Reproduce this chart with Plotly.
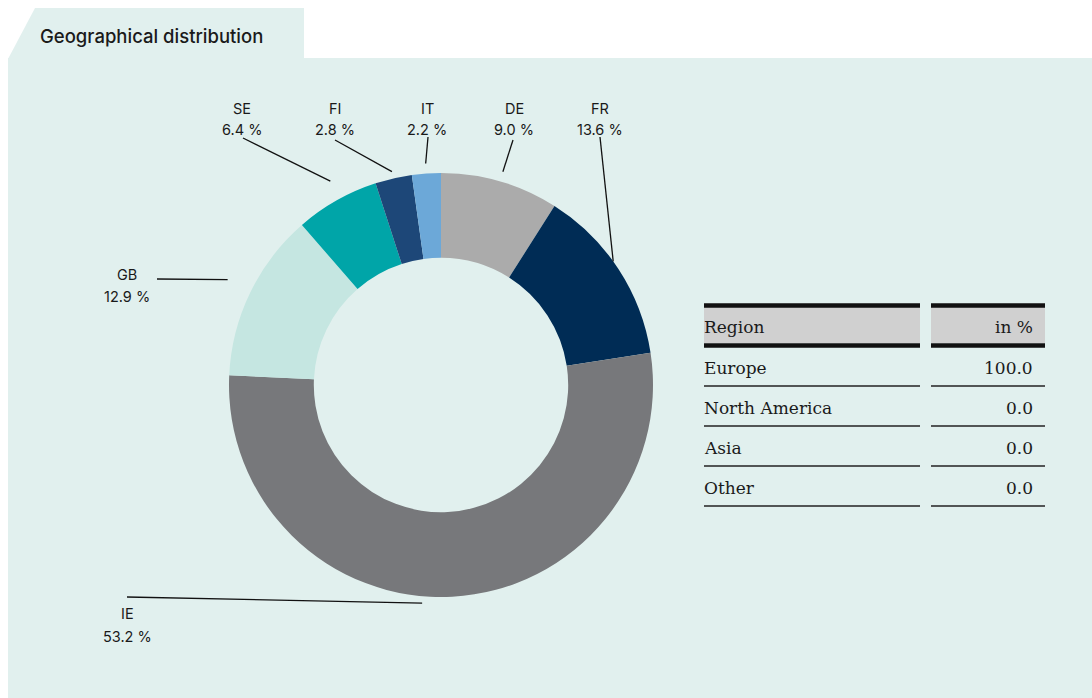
import math
import plotly.graph_objects as go

# ---------------- data ----------------
countries = ["DE", "FR", "IE", "GB", "SE", "FI", "IT"]
shares = [9.0, 13.6, 53.2, 12.9, 6.4, 2.8, 2.2]
slice_colors = ["#ababab", "#002c55", "#77787b", "#c5e6e1", "#00a5a8", "#1d4778", "#6ca8d8"]

regions = ["Europe", "North America", "Asia", "Other"]
region_values = [100.0, 0.0, 0.0, 0.0]
table_header = ["Region", "in %"]

title_text = "Geographical distribution"

# ---------------- layout constants ----------------
W, H = 1092, 698
BG = "#e1f0ee"
TXT = "#1a1a1a"
CX, CY, R = 441, 385, 212
HOLE = 0.6

# label layout: centre x, name y, value y, leader start, leader end radius, angle nudge (deg)
label_layout = {
    "SE": dict(x=242, ny=108, vy=130, sx=243, sy=138, r=232, nudge=1.0),
    "FI": dict(x=335, ny=108, vy=130, sx=335, sy=140, r=219, nudge=0),
    "IT": dict(x=427, ny=108, vy=130, sx=428, sy=137, r=222, nudge=0),
    "DE": dict(x=514, ny=108, vy=130, sx=513, sy=140, r=222, nudge=0),
    "FR": dict(x=600, ny=108, vy=130, sx=600, sy=137, r=212, nudge=-2.5),
    "GB": dict(x=127, ny=274, vy=297, sx=157, sy=279, r=238, nudge=0.5),
    "IE": dict(x=127, ny=613, vy=636, sx=127, sy=597, r=219, nudge=8),
}


def px(x):
    return x / W


def py(y):
    return 1 - y / H


fig = go.Figure()

fig.add_trace(go.Pie(
    labels=countries,
    values=shares,
    marker=dict(colors=slice_colors, line=dict(width=0)),
    hole=HOLE,
    sort=False,
    direction="clockwise",
    rotation=0,
    textinfo="none",
    hoverinfo="label+percent",
    showlegend=False,
    domain=dict(x=[px(CX - R), px(CX + R)], y=[py(CY + R), py(CY - R)]),
))

shapes = []
annotations = []

# background panel + tab
shapes.append(dict(type="rect", xref="paper", yref="paper",
                   x0=px(8), x1=px(W), y0=py(H), y1=py(58),
                   fillcolor=BG, line=dict(width=0), layer="below"))
shapes.append(dict(type="path", xref="paper", yref="paper",
                   path=f"M {px(35)},{py(8)} L {px(304)},{py(8)} L {px(304)},{py(59)} L {px(8)},{py(59)} Z",
                   fillcolor=BG, line=dict(width=0), layer="below"))

annotations.append(dict(text=title_text, x=px(38), y=py(36), xref="paper", yref="paper",
                        xanchor="left", yanchor="middle", showarrow=False,
                        font=dict(family="Inter", size=18.5, color=TXT, weight=500)))

LFONT = dict(family="Inter", size=14.5, color=TXT)

# leader lines and labels, anchored on slice mid-angles
total = sum(shares)
cum = 0.0
for name, val in zip(countries, shares):
    mid = (cum + val / 2) / total * 360.0
    cum += val
    L = label_layout[name]
    th = math.radians(mid + L["nudge"])
    ex = CX + L["r"] * math.sin(th)
    ey = CY - L["r"] * math.cos(th)
    shapes.append(dict(type="line", xref="paper", yref="paper",
                       x0=px(L["sx"]), y0=py(L["sy"]), x1=px(ex), y1=py(ey),
                       line=dict(color="#111111", width=1.3)))
    annotations.append(dict(text=name, x=px(L["x"]), y=py(L["ny"]), xref="paper", yref="paper",
                            xanchor="center", yanchor="middle", showarrow=False, font=LFONT))
    annotations.append(dict(text=f"{val:.1f} %", x=px(L["x"]), y=py(L["vy"]), xref="paper", yref="paper",
                            xanchor="center", yanchor="middle", showarrow=False, font=LFONT))

# ---------------- table ----------------
C1 = (704, 920)
C2 = (931, 1045)
VAL_RIGHT = 1035
TFONT = dict(family="DejaVu Serif", size=17, color=TXT)

for (a, b) in (C1, C2):
    shapes.append(dict(type="rect", xref="paper", yref="paper",
                       x0=px(a), x1=px(b), y0=py(343), y1=py(307),
                       fillcolor="#d0d0d0", line=dict(width=0)))
    for yy in (305.5, 345.5):
        shapes.append(dict(type="line", xref="paper", yref="paper",
                           x0=px(a), x1=px(b), y0=py(yy), y1=py(yy),
                           line=dict(color="#111111", width=4.5)))

annotations.append(dict(text=table_header[0], x=px(C1[0] - 2), y=py(327), xref="paper", yref="paper",
                        xanchor="left", yanchor="middle", showarrow=False, font=TFONT))
annotations.append(dict(text=table_header[1], x=px(VAL_RIGHT), y=py(327), xref="paper", yref="paper",
                        xanchor="right", yanchor="middle", showarrow=False, font=TFONT))

ROW_TOP = 348
ROW_H = 40
for i, (reg, v) in enumerate(zip(regions, region_values)):
    ty = ROW_TOP + ROW_H * i + 20
    ly = ROW_TOP + ROW_H * (i + 1) - 2
    annotations.append(dict(text=reg, x=px(C1[0] - 2), y=py(ty), xref="paper", yref="paper",
                            xanchor="left", yanchor="middle", showarrow=False, font=TFONT))
    annotations.append(dict(text=f"{v:.1f}", x=px(VAL_RIGHT), y=py(ty), xref="paper", yref="paper",
                            xanchor="right", yanchor="middle", showarrow=False, font=TFONT))
    for (a, b) in (C1, C2):
        shapes.append(dict(type="line", xref="paper", yref="paper",
                           x0=px(a), x1=px(b), y0=py(ly), y1=py(ly),
                           line=dict(color="#222222", width=1.5)))

fig.update_layout(
    width=W, height=H,
    margin=dict(l=0, r=0, t=0, b=0),
    paper_bgcolor="white",
    plot_bgcolor="white",
    shapes=shapes,
    annotations=annotations,
    showlegend=False,
)

fig.write_html("out.html", config={"displayModeBar": False})
